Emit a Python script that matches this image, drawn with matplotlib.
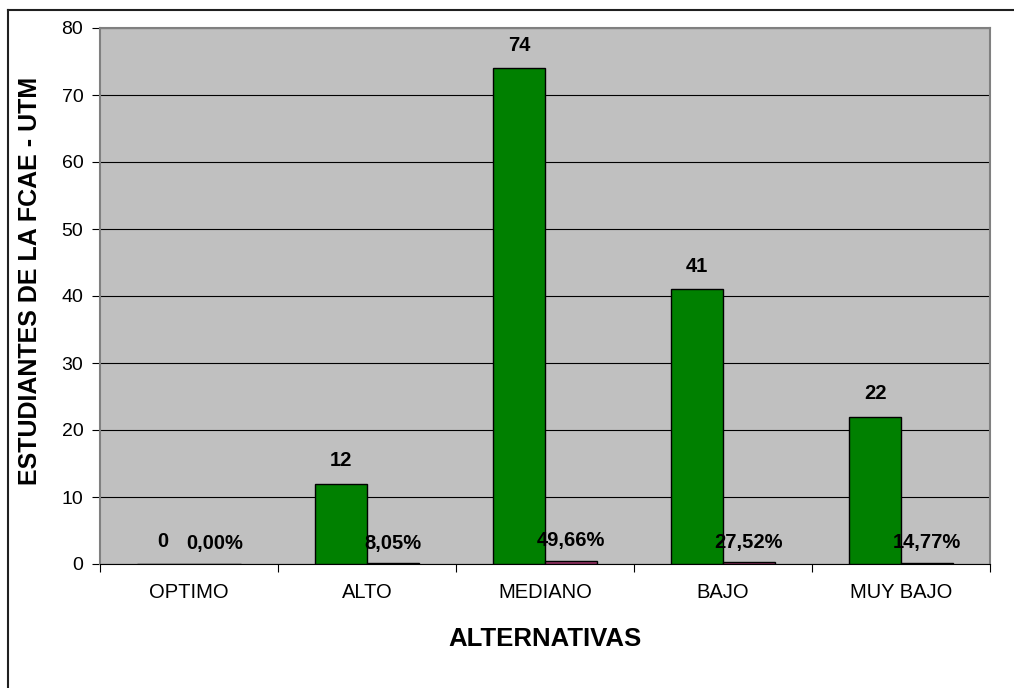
import matplotlib
matplotlib.use("Agg")
import matplotlib.pyplot as plt
from matplotlib.lines import Line2D
import numpy as np

categories = ["OPTIMO", "ALTO", "MEDIANO", "BAJO", "MUY BAJO"]
estudiantes = [0, 12, 74, 41, 22]
porcentajes = [0.0, 0.0805, 0.4966, 0.2752, 0.1477]
pct_labels = ["0,00%", "8,05%", "49,66%", "27,52%", "14,77%"]

plt.rcParams['font.family'] = ['Liberation Sans', 'DejaVu Sans']

fig = plt.figure(figsize=(10.14, 6.88), dpi=100)
ax = fig.add_axes([100/1014, 1-564/688, 890/1014, 536/688])
ax.set_facecolor('#C0C0C0')

x = np.arange(len(categories))
w = 0.29
ax.bar(x - w/2, estudiantes, w, color='#008000', edgecolor='black', linewidth=1, zorder=3)
ax.bar(x + w/2, porcentajes, w, color='#993366', edgecolor='black', linewidth=1, zorder=3)

for xi, v in zip(x - w/2, estudiantes):
    ax.annotate(str(v), (xi, v), xytext=(0, 16.5), textcoords='offset points',
                ha='center', va='center', fontsize=14.5, fontweight='bold', zorder=5)
for xi, v, lab in zip(x + w/2, porcentajes, pct_labels):
    ax.annotate(lab, (xi, v), xytext=(0, 14.5), textcoords='offset points',
                ha='center', va='center', fontsize=14.5, fontweight='bold', zorder=5)

ax.set_xlim(-0.5, len(categories) - 0.5)
ax.set_ylim(0, 80)
ax.set_yticks(np.arange(0, 81, 10))
ax.yaxis.grid(True, color='black', linewidth=0.8, zorder=0)
ax.set_axisbelow(True)
ax.set_xticks(np.arange(-0.5, len(categories), 1), minor=False)
ax.set_xticklabels([])
ax.set_xticks(x, minor=True)
ax.set_xticklabels(categories, minor=True, fontsize=14.5)
ax.tick_params(axis='x', which='minor', length=0, pad=14)
ax.tick_params(axis='x', which='major', length=6, direction='out')
ax.tick_params(axis='y', labelsize=14, length=6, pad=6, direction='out')

for s in ['top', 'right', 'left']:
    ax.spines[s].set_color('#808080')
    ax.spines[s].set_linewidth(1.5)
ax.spines['bottom'].set_color('black')

ax.set_xlabel("ALTERNATIVAS", fontsize=18.5, fontweight='bold', labelpad=18)
ax.set_ylabel("ESTUDIANTES DE LA FCAE - UTM", fontsize=18, fontweight='bold')
ax.yaxis.set_label_coords(-0.065, 0.528)

# outer chart frame (top and left edges visible)
fig.add_artist(Line2D([8/1014, 1013/1014], [1-10/688, 1-10/688], transform=fig.transFigure,
                      color='#202020', linewidth=1.5))
fig.add_artist(Line2D([8/1014, 8/1014], [0, 1-10/688], transform=fig.transFigure,
                      color='#202020', linewidth=1.5))

fig.savefig("out.png", dpi=100)
